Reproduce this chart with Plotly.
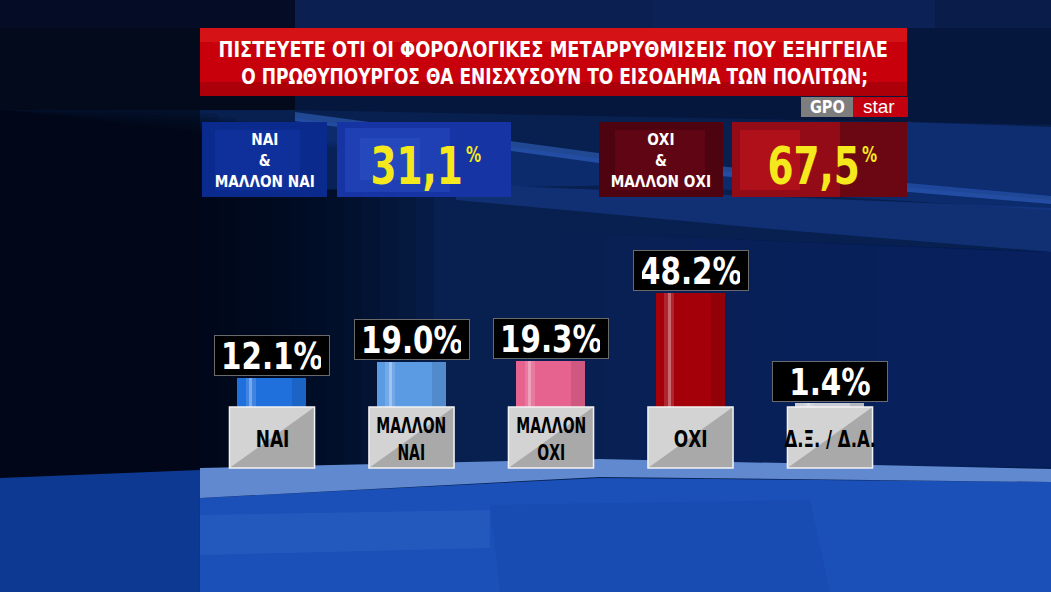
import json
import plotly.graph_objects as go

# ---------------- data ----------------
categories = ["ΝΑΙ", "ΜΑΛΛΟΝ ΝΑΙ", "ΜΑΛΛΟΝ ΟΧΙ", "ΟΧΙ", "Δ.Ξ. / Δ.Α."]
category_labels = ["ΝΑΙ", "ΜΑΛΛΟΝ<br>ΝΑΙ", "ΜΑΛΛΟΝ<br>ΟΧΙ", "ΟΧΙ", "Δ.Ξ. / Δ.Α."]
values = [12.1, 19.0, 19.3, 48.2, 1.4]
bar_colors = ["#1f6fdc", "#5b9be3", "#e6628f", "#a3000a", "#c9ccd4"]
yes_total = 31.1
no_total = 67.5
yes_label = "ΝΑΙ<br>&<br>ΜΑΛΛΟΝ ΝΑΙ"
no_label = "ΟΧΙ<br>&<br>ΜΑΛΛΟΝ ΟΧΙ"
title_lines = ["ΠΙΣΤΕΥΕΤΕ ΟΤΙ ΟΙ ΦΟΡΟΛΟΓΙΚΕΣ ΜΕΤΑΡΡΥΘΜΙΣΕΙΣ ΠΟΥ ΕΞΗΓΓΕΙΛΕ",
               "Ο ΠΡΩΘΥΠΟΥΡΓΟΣ ΘΑ ΕΝΙΣΧΥΣΟΥΝ ΤΟ ΕΙΣΟΔΗΜΑ ΤΩΝ ΠΟΛΙΤΩΝ;"]
source_parts = ["GPO", "star"]

W, H = 1051, 592
FONT = "DejaVu Sans Condensed, DejaVu Sans, Liberation Sans, sans-serif"


def X(px):
    return px / W


def Y(py):
    return 1 - py / H


def poly(points, color, opacity=1.0, layer="below"):
    path = "M " + " L ".join(f"{X(a):.5f},{Y(b):.5f}" for a, b in points) + " Z"
    return dict(type="path", xref="paper", yref="paper", path=path,
                fillcolor=color, opacity=opacity, line=dict(width=0), layer=layer)


def rect(x0, y0, x1, y1, color, opacity=1.0, layer="below", line=None):
    return dict(type="rect", xref="paper", yref="paper",
                x0=X(x0), x1=X(x1), y0=Y(y1), y1=Y(y0),
                fillcolor=color, opacity=opacity,
                line=line if line else dict(width=0), layer=layer)


shapes = []
# ---------- background ----------
shapes += [
    rect(0, 0, W, H, "#08204f"),
    rect(0, 0, 295, 28, "#050d26"),
    rect(295, 0, 653, 28, "#0b1f50"),
    rect(653, 0, 935, 28, "#0c2256"),
    rect(935, 0, W, 28, "#0a1c4a"),
    poly([(295, 28), (W, 28), (W, 125), (295, 110)], "#061639", 0.85),
    poly([(0, 28), (295, 28), (295, 110), (0, 110)], "#030a1c"),
]
# soft darkening towards the left
for k in range(14):
    shapes.append(poly([(0, 110), (200 + 18 * k, 110 + 4 * k), (200 + 18 * k, 478), (0, 478)],
                       "#020818", 0.14))
shapes.append(rect(0, 110, 200, 478, "#020818", 0.6))
# soft lightening towards the right
for k in range(10):
    x0 = 560 + 45 * k
    shapes.append(poly([(x0, 232 + 2 * k), (W, 252), (W, 468), (x0, 464)], "#12306e", 0.07))
shapes += [
    # diagonal bands
    poly([(295, 118), (650, 165), (W, 200), (W, 210), (650, 185), (295, 190)], "#153d9c", 0.4),
    poly([(295, 112), (650, 160), (W, 196), (W, 204), (650, 170), (295, 121)], "#3a6fd8", 0.5),
    poly([(907, 122), (W, 127), (W, 197), (907, 188)], "#1a47ae", 0.35),
    poly([(456, 184), (W, 208), (W, 252), (760, 228), (456, 200)], "#1a4098", 0.5),
    # floor
    poly([(0, 478), (200, 470), (200, H), (0, H)], "#0d3992"),
    poly([(200, 498), (600, 478), (W, 482), (W, H), (200, H)], "#1b50b8"),
    poly([(200, 468), (600, 459), (W, 469), (W, 482), (600, 477), (200, 498)], "#6089cf"),
    poly([(200, 515), (490, 510), (490, 548), (200, 555)], "#2f63c4", 0.45),
    poly([(490, 505), (810, 500), (830, H), (500, H)], "#1648aa", 0.45),
]

# ---------- title box ----------
shapes += [
    rect(200, 28, 907, 96, "#c7000c"),
    rect(200, 28, 907, 42, "#dc1a1a", 0.7),
    rect(200, 82, 907, 96, "#a00008", 0.7),
    rect(801, 97, 853, 117, "#7d7d7d"),
    rect(853, 97, 908, 117, "#c2000f"),
]

# ---------- top summary boxes ----------
shapes += [
    rect(202, 122, 327, 197, "#0b2a8e"),
    rect(215, 130, 300, 190, "#1538a8", 0.45),
    rect(337, 122, 511, 197, "#1734a4"),
    rect(345, 128, 450, 192, "#2a50c8", 0.45),
    rect(360, 138, 420, 180, "#3560d4", 0.3),
    rect(599, 122, 723, 197, "#4e0410"),
    rect(615, 130, 705, 190, "#6e0816", 0.55),
    rect(732, 122, 907, 197, "#6a0712"),
    rect(732, 122, 840, 197, "#a80e18", 0.65),
    rect(740, 130, 800, 190, "#d2161e", 0.45),
]

# ---------- bars ----------
fig = go.Figure()
fig.add_trace(go.Bar(x=categories, y=values, marker=dict(color=bar_colors, line=dict(width=0)),
                     width=0.495, hoverinfo="skip", showlegend=False))
fig.add_trace(go.Bar(x=categories, y=values, marker=dict(color="rgba(0,0,0,0.10)", line=dict(width=0)),
                     width=0.10, offset=0.1475, hoverinfo="skip", showlegend=False))
fig.add_trace(go.Bar(x=categories, y=values, marker=dict(color="rgba(255,255,255,0.15)", line=dict(width=0)),
                     width=0.07, offset=-0.185, hoverinfo="skip", showlegend=False))
fig.add_trace(go.Bar(x=categories, y=values, marker=dict(color="rgba(255,255,255,0.30)", line=dict(width=0)),
                     width=0.022, offset=-0.162, hoverinfo="skip", showlegend=False))

annotations = []
text_scale = []


def ann(scale, **kw):
    kw.setdefault("showarrow", False)
    kw.setdefault("xanchor", "center")
    kw.setdefault("yanchor", "middle")
    kw.setdefault("align", "center")
    annotations.append(kw)
    text_scale.append(scale)


# value labels above bars
for c, v in zip(categories, values):
    ann(0.86, x=c, y=v, xref="x", yref="y", yanchor="bottom", yshift=2,
        text=f"<b>{v:.1f}%</b>",
        font=dict(family=FONT, size=38, color="white"),
        bgcolor="#000000", bordercolor="#6a6a6a", borderwidth=1, borderpad=0,
        width=114, height=39, valign="middle")

# category label boxes (x2 is a linear twin of the category axis)
half = 0.305
for i, lab in enumerate(category_labels):
    shapes.append(dict(type="rect", xref="x2", yref="paper", x0=i - half, x1=i + half,
                       y0=Y(468), y1=Y(407), fillcolor="#d3d3d3", line=dict(width=0), layer="above"))
    shapes.append(dict(type="path", xref="x2", yref="paper",
                       path=f"M {i - half},{Y(468)} L {i + half},{Y(468)} L {i + half},{Y(407)} Z",
                       fillcolor="#a9a9a9", line=dict(width=0), layer="above"))
    shapes.append(dict(type="rect", xref="x2", yref="paper", x0=i - half, x1=i + half,
                       y0=Y(468), y1=Y(407), fillcolor="rgba(0,0,0,0)",
                       line=dict(color="#f2f2f2", width=1.5), layer="above"))
    two = "<br>" in lab
    sc = 0.74 if two else (0.82 if len(lab) <= 3 else 0.8)
    ann(sc, x=categories[i], y=Y(439), xref="x", yref="paper", text=f"<b>{lab}</b>",
        font=dict(family=FONT, size=21 if two else 23, color="#000000"))

# title
ann(0.9, x=X(553), y=Y(49), xref="paper", yref="paper", text=f"<b>{title_lines[0]}</b>",
    font=dict(family=FONT, size=22, color="white"))
ann(0.86, x=X(554), y=Y(76), xref="paper", yref="paper", text=f"<b>{title_lines[1]}</b>",
    font=dict(family=FONT, size=22, color="white"))
# source badge
ann(0.95, x=X(827), y=Y(107), xref="paper", yref="paper", text=f"<b>{source_parts[0]}</b>",
    font=dict(family=FONT, size=17, color="white"))
ann(1.0, x=X(879), y=Y(106), xref="paper", yref="paper", text=source_parts[1],
    font=dict(family="Liberation Sans, Arial, sans-serif", size=19, color="white"))

# summary boxes text
for lab, cx in [(yes_label, 264.5), (no_label, 661)]:
    ann(0.95, x=X(cx), y=Y(161), xref="paper", yref="paper", text=f"<b>{lab}</b>",
        font=dict(family=FONT, size=16, color="white"))
for total, cx, px in [(yes_total, 416, 473), (no_total, 813, 869)]:
    ann(0.8, x=X(cx), y=Y(166), xref="paper", yref="paper",
        text="<b>" + f"{total:.1f}".replace(".", ",") + "</b>",
        font=dict(family=FONT, size=52, color="#f5e81c"))
    ann(0.8, x=X(px), y=Y(155), xref="paper", yref="paper", text="<b>%</b>",
        font=dict(family=FONT, size=21, color="#f5e81c"))

fig.update_layout(
    width=W, height=H, margin=dict(l=0, r=0, t=0, b=0),
    paper_bgcolor="#08204f", plot_bgcolor="rgba(0,0,0,0)",
    barmode="overlay", bargap=0,
    xaxis=dict(domain=[X(202.25), X(899.75)], type="category", categoryorder="array",
               categoryarray=categories, range=[-0.5, 4.5], visible=False, fixedrange=True),
    xaxis2=dict(overlaying="x", anchor="y", range=[-0.5, 4.5], visible=False, fixedrange=True),
    yaxis=dict(domain=[Y(407), Y(407 - 60 * 2.36)], range=[0, 60], visible=False, fixedrange=True),
    shapes=shapes, annotations=annotations, showlegend=False,
)

post = """
document.body.style.margin = '0';
document.body.style.overflow = 'hidden';
var SC = %s;
document.querySelectorAll('g.annotation').forEach(function (g) {
  var i = +g.getAttribute('data-index');
  var t = g.querySelector('text.annotation-text');
  if (t && SC[i] && SC[i] !== 1) {
    t.style.transformBox = 'fill-box';
    t.style.transformOrigin = '50%% 50%%';
    t.style.transform = 'scaleX(' + SC[i] + ')';
  }
});
""" % json.dumps(text_scale)

fig.write_html("out.html", post_script=post, config={"displayModeBar": False})
